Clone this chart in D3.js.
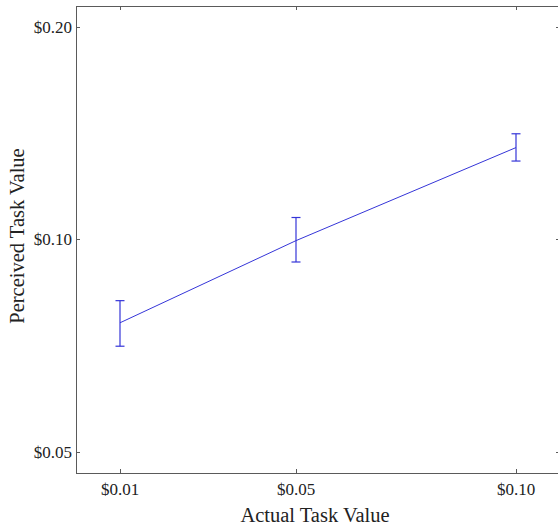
<!DOCTYPE html>
<html>
<head>
<meta charset="utf-8">
<script src="https://cdn.jsdelivr.net/npm/d3@7"></script>
<style>
    body { margin: 0; background: #fff; }
    text { font-family: "Liberation Serif", "Times New Roman", serif; }
</style>
</head>
<body>
<svg id="chart" width="558" height="529"></svg>
<script>
"use strict";

//actual task value (dollars) and perceived value with error bar ends
var actual = [0.01, 0.05, 0.10],
    perceived = [0.0762, 0.0996, 0.1349],
    perceivedLow = [0.0706, 0.0929, 0.1291],
    perceivedHigh = [0.0819, 0.1074, 0.1411],
    xTicks = [0.01, 0.05, 0.10],
    yTicks = [0.05, 0.10, 0.20];

var svg = d3.select("#chart"),
    frame = {left: 76, top: 6, right: 560, bottom: 473},
    fmt = function (d) { return "$" + d.toFixed(2); },
    x, y, line, capw = 4.5, blue = "#3535d8", axc = "#5a5a5a";

x = d3.scaleLinear().domain([0, 0.11]).range([frame.left, frame.right]);
y = d3.scaleLog().base(2).domain([0.0467, 0.214])
    .range([frame.bottom, frame.top]);

//frame box
svg.append("rect")
    .attr("x", frame.left + 0.5)
    .attr("y", frame.top + 0.5)
    .attr("width", frame.right - frame.left)
    .attr("height", frame.bottom - frame.top)
    .attr("fill", "none")
    .attr("stroke", axc)
    .attr("stroke-width", 1);

//inward ticks on all four sides
function tickMarks(g, vals, isX, pos, dir) {
    g.selectAll(null).data(vals).enter().append("line")
        .attr("x1", function (d) { return isX ? Math.round(x(d)) + 0.5 : pos; })
        .attr("x2", function (d) { return isX ? Math.round(x(d)) + 0.5 : pos + dir * 4; })
        .attr("y1", function (d) { return isX ? pos : Math.round(y(d)) + 0.5; })
        .attr("y2", function (d) { return isX ? pos + dir * 4 : Math.round(y(d)) + 0.5; })
        .attr("stroke", axc);
}
var tg = svg.append("g");
tickMarks(tg, xTicks, true, frame.bottom, -1);
tickMarks(tg, xTicks, true, frame.top, 1);
tickMarks(tg, yTicks, false, frame.left, 1);
tickMarks(tg, yTicks, false, frame.right, -1);

svg.selectAll(".xl").data(xTicks).enter().append("text")
    .attr("x", function (d) { return x(d); })
    .attr("y", 495)
    .attr("text-anchor", "middle")
    .attr("font-size", 17)
    .attr("fill", "#222")
    .text(fmt);

svg.selectAll(".yl").data(yTicks).enter().append("text")
    .attr("x", frame.left - 4)
    .attr("y", function (d) { return y(d) + 6; })
    .attr("text-anchor", "end")
    .attr("font-size", 17)
    .attr("fill", "#222")
    .text(fmt);

svg.append("text")
    .attr("x", 315)
    .attr("y", 522)
    .attr("text-anchor", "middle")
    .attr("font-size", 20.5)
    .attr("fill", "#222")
    .text("Actual Task Value");

svg.append("text")
    .attr("transform", "translate(24,236) rotate(-90)")
    .attr("text-anchor", "middle")
    .attr("font-size", 20.5)
    .attr("fill", "#222")
    .text("Perceived Task Value");

//mean line
line = d3.line()
    .x(function (d, i) { return x(actual[i]); })
    .y(function (d) { return y(d); });
svg.append("path")
    .datum(perceived)
    .attr("d", line)
    .attr("fill", "none")
    .attr("stroke", blue)
    .attr("stroke-width", 1);

//error bars
var eb = svg.append("g").attr("stroke", blue).attr("stroke-width", 1.2);
actual.forEach(function (a, i) {
    var cx = x(a);
    eb.append("line")
        .attr("x1", cx).attr("x2", cx)
        .attr("y1", y(perceivedLow[i])).attr("y2", y(perceivedHigh[i]));
    eb.append("line")
        .attr("x1", cx - capw).attr("x2", cx + capw)
        .attr("y1", y(perceivedLow[i])).attr("y2", y(perceivedLow[i]));
    eb.append("line")
        .attr("x1", cx - capw).attr("x2", cx + capw)
        .attr("y1", y(perceivedHigh[i])).attr("y2", y(perceivedHigh[i]));
});
</script>
</body>
</html>
